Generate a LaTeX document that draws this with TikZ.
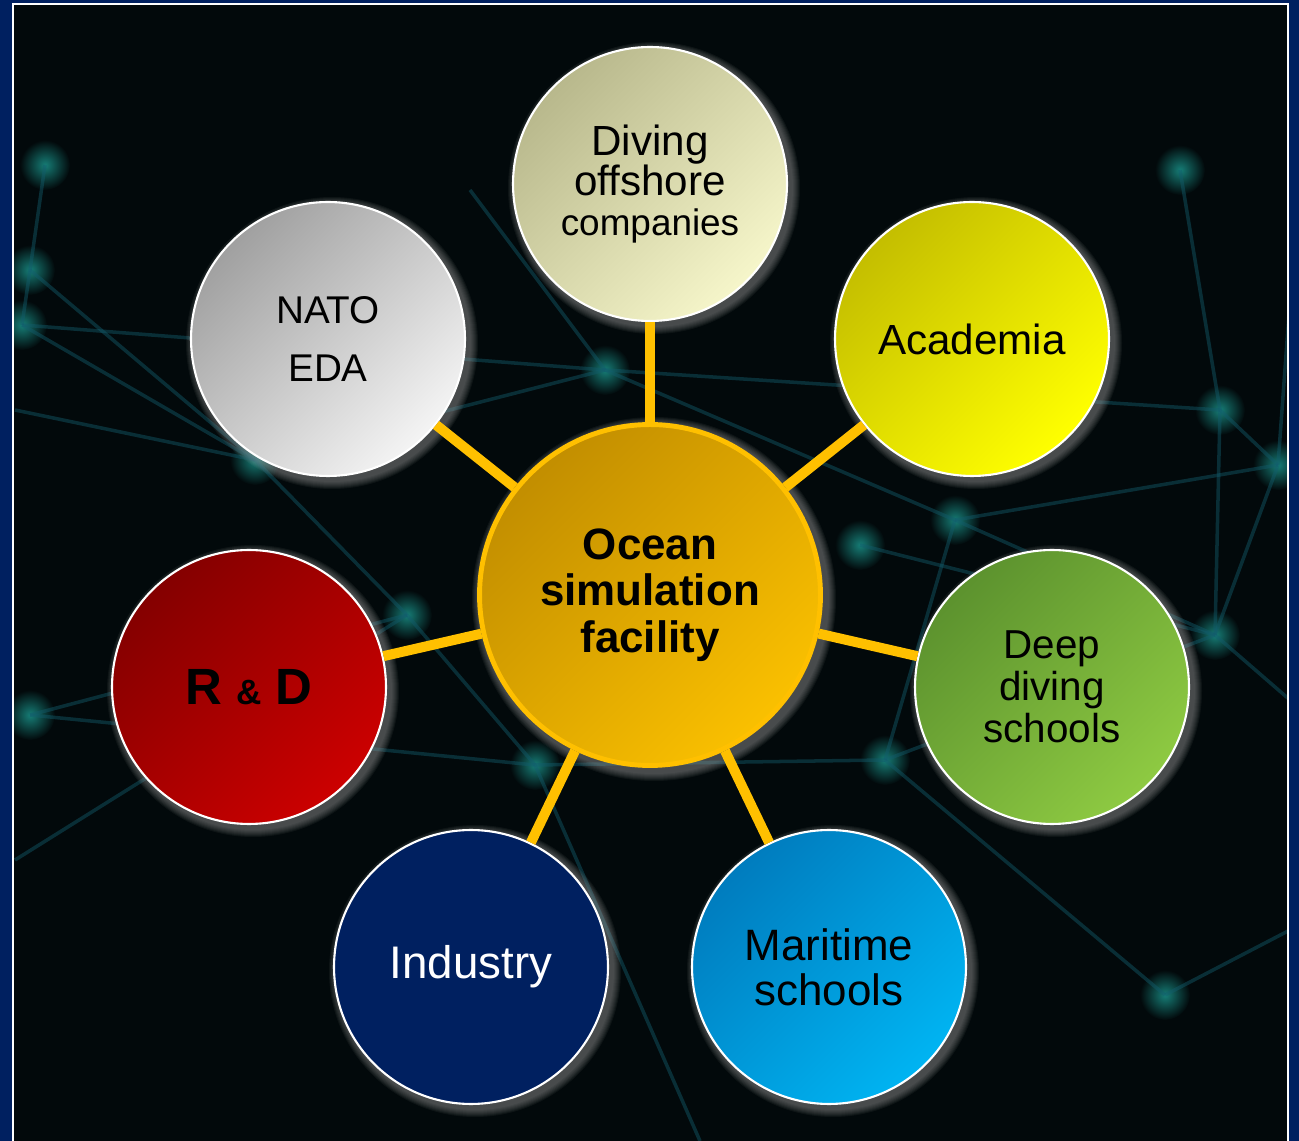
\documentclass[tikz,border=0pt]{standalone}
\usepackage{fontspec}
\setmainfont{Liberation Sans}
\usepackage{xcolor}

\definecolor{frameblue}{RGB}{0,32,96}
\definecolor{bgdark}{RGB}{2,9,11}
\definecolor{spokegold}{RGB}{255,192,0}
\definecolor{netline}{RGB}{18,92,108}
\definecolor{netdot}{RGB}{22,125,118}
\definecolor{hubA}{RGB}{194,142,0}
\definecolor{hubB}{RGB}{250,192,0}
\definecolor{divA}{RGB}{184,184,140}
\definecolor{divB}{RGB}{246,246,202}
\definecolor{acaA}{RGB}{196,190,0}
\definecolor{acaB}{RGB}{255,255,0}
\definecolor{natoA}{RGB}{160,160,160}
\definecolor{natoB}{RGB}{244,244,244}
\definecolor{rndA}{RGB}{132,0,0}
\definecolor{rndB}{RGB}{204,0,0}
\definecolor{deepA}{RGB}{92,146,46}
\definecolor{deepB}{RGB}{142,202,66}
\definecolor{indA}{RGB}{0,32,96}
\definecolor{marA}{RGB}{0,124,190}
\definecolor{marB}{RGB}{0,180,242}

\begin{document}
\begin{tikzpicture}[x=0.02cm,y=-0.02cm,
    member/.style={circle,draw=white,line width=1.2pt,minimum size=5.48cm,
        inner sep=0pt,align=center,text=black},
    hubnode/.style={circle,draw=spokegold,line width=2.8pt,minimum size=6.82cm,
        inner sep=0pt,align=center,top color=hubA,bottom color=hubB,shading angle=45},
    spokeline/.style={spokegold,line width=5.7pt}]
    \useasboundingbox (0,0) rectangle (1299,1141);

    % frame and dark background
    \fill[frameblue] (0,0) rectangle (1299,1141);
    \fill[bgdark] (13,4) rectangle (1288,1141);

    % network in the background
    \begin{scope}
        \clip (13,4) rectangle (1288,1141);
        \foreach \x/\y in {30/270,22/325,45/165,255/460,605/370,407/615,30/715,535/765,
            860/545,955/520,1220/410,1278/465,1215/635,1165/995,885/760,1180/170}
            \shade[inner color=netdot,outer color=bgdark] (\x,\y) circle[radius=0.5cm];
        \foreach \a/\b/\c/\d in {45/165/30/270, 30/270/22/325, 22/325/605/370, 30/270/255/460,
            22/325/255/460, 255/460/407/615, 255/460/605/370, 605/370/955/520,
            605/370/1220/410, 407/615/535/765, 407/615/30/715, 30/715/535/765,
            535/765/885/760, 885/760/1165/995, 955/520/1215/635, 1215/635/1278/465,
            1220/410/1278/465, 1220/410/1215/635, 860/545/1215/635, 1180/170/1220/410,
            470/190/605/370, 15/410/255/460, 1215/635/1290/700, 885/760/1215/635,
            955/520/885/760, 15/860/407/615, 1165/995/1290/930,
            535/765/700/1141, 1278/465/1290/300, 955/520/1278/465}
            \draw[netline,line width=2pt,opacity=0.45] (\a,\b) -- (\c,\d);
    \end{scope}
    \draw[white,line width=1.1pt] (13,1141) -- (13,4) -- (1288,4) -- (1288,1141);

    % soft halos behind the circles
    \foreach \x/\y/\r in {650/184/138,972/339/138,1052/687/138,829/967/138,
        471/967/138,249/687/138,328/339/138,650/595/174}
        \foreach \k in {1,...,8}
            \fill[gray!70!white,opacity=0.07] (\x+4,\y+4) circle[radius={0.02cm*(\r+9-\k)}];

    % circles
    \node[hubnode,font=\bfseries\fontsize{25}{26.5}\selectfont] (hub) at (650,595)
        {Ocean\\simulation\\facility};
    \node[member,top color=divA,bottom color=divB,shading angle=45,
        font=\fontsize{24}{23}\selectfont] (diving) at (650,184)
        {Diving\\offshore\\{\fontsize{21}{22}\selectfont companies}};
    \node[member,top color=acaA,bottom color=acaB,shading angle=45,
        font=\fontsize{24}{26}\selectfont] (academia) at (972,339) {Academia};
    \node[member,top color=deepA,bottom color=deepB,shading angle=45,
        font=\fontsize{23}{24}\selectfont] (deep) at (1052,687) {Deep\\diving\\schools};
    \node[member,top color=marA,bottom color=marB,shading angle=45,
        font=\fontsize{25}{25.5}\selectfont] (maritime) at (829,967) {Maritime\\schools};
    \node[member,fill=indA,text=white,font=\fontsize{26}{28}\selectfont]
        (industry) at (471,967) {Industry};
    \node[member,top color=rndA,bottom color=rndB,shading angle=45,
        font=\bfseries\fontsize{29}{30}\selectfont] (rnd) at (249,687)
        {R {\fontsize{20}{20}\selectfont\&} D};
    \node[member,top color=natoA,bottom color=natoB,shading angle=45,
        font=\fontsize{22}{33}\selectfont] (nato) at (328,339) {NATO\\EDA};

    % spokes
    \foreach \m in {diving,academia,deep,maritime,industry,rnd,nato}
        \draw[spokeline] (hub) -- (\m);
\end{tikzpicture}
\end{document}
